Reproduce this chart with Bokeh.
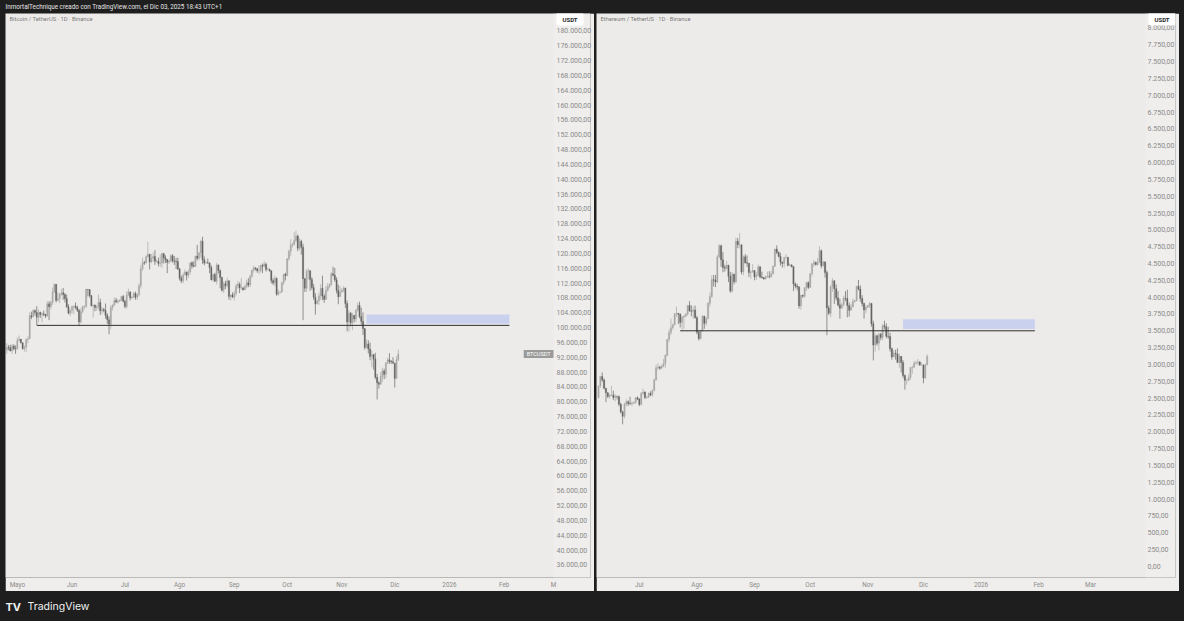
import numpy as np
from bokeh.plotting import figure
from bokeh.models import Range1d, FixedTicker, Label, Spacer, ColumnDataSource, BoxAnnotation
from bokeh.layouts import row, column
from bokeh.embed import file_html
from bokeh.resources import INLINE
from bokeh.core.properties import value

# ---------------------------------------------------------------- texts
HEADER_TEXT = "InmortalTechnique creado con TradingView.com, el Dic 03, 2025 18:43 UTC+1"
BTC_TITLE = "Bitcoin / TetherUS · 1D · Binance"
ETH_TITLE = "Ethereum / TetherUS · 1D · Binance"
BRAND = "TradingView"

# ---------------------------------------------------------------- BTC data (daily, thousands USDT), first day 2025-04-24
btc_start = "2025-04-24"
btc_first_open = 93.7
btc_close = [
    93.9, 94.7, 94.6, 93.7, 95.0, 94.3, 94.2,
    96.5, 96.9, 95.9, 94.3, 94.7, 96.8, 97.0, 103.2, 102.9, 104.6, 104.1, 102.8, 104.1, 103.5, 103.7, 103.5, 103.1, 106.4, 105.6, 106.8, 109.6, 111.7, 107.3, 107.8, 109.0, 109.4, 108.9, 107.8, 105.6, 103.9, 104.6,
    105.7, 105.8, 105.4, 104.7, 101.5, 104.3, 105.6, 105.7, 110.3, 110.2, 108.6, 105.9, 106.1, 105.4, 105.6, 106.8, 104.5, 104.9, 104.6, 103.3, 102.1, 100.9, 105.4, 106.0, 107.3, 106.9, 107.1, 107.3, 108.4, 107.1,
    105.7, 108.8, 109.6, 108.0, 108.2, 109.2, 108.2, 108.9, 111.3, 115.9, 117.5, 117.4, 119.1, 119.8, 117.7, 118.7, 119.2, 117.9, 117.9, 117.3, 117.4, 120.0, 118.8, 118.3, 117.6, 117.9, 119.4, 118.0, 117.9, 117.8, 115.8,
    113.3, 112.6, 114.2, 115.0, 114.1, 115.0, 117.5, 116.7, 116.5, 119.3, 118.7, 120.2, 123.3, 118.3, 117.4, 117.5, 117.4, 116.2, 112.9, 114.3, 112.5, 116.9, 115.4, 113.5, 110.1, 111.8, 111.3, 112.6, 108.4, 108.8, 108.2,
    109.2, 111.2, 111.7, 110.7, 110.7, 110.2, 111.1, 112.1, 111.5, 113.9, 115.5, 116.1, 115.9, 115.3, 115.4, 116.8, 116.5, 117.1, 115.7, 115.7, 115.3, 112.7, 112.0, 113.3, 109.0, 109.6, 109.6, 112.1, 114.4, 114.0,
    118.6, 120.6, 122.3, 122.4, 123.5, 124.7, 121.4, 123.3, 121.7, 113.2, 110.6, 115.2, 115.3, 113.0, 110.8, 108.2, 106.4, 107.2, 108.6, 110.6, 108.5, 107.6, 110.1, 111.0, 111.6, 114.5, 114.1, 112.9, 110.0, 108.3, 109.6,
    110.1, 110.6, 106.5, 101.5, 103.9, 101.3, 103.3, 102.3, 104.7, 106.0, 103.0, 101.7, 99.7, 94.6, 95.6, 94.2, 92.2, 92.7, 91.5, 86.6, 85.1, 84.7, 86.8, 88.3, 87.4, 90.5, 91.3, 90.9, 90.8, 90.4,
    86.3, 91.3, 92.9,
]
btc_high = [
    94.0, 95.8, 95.3, 95.4, 95.6, 95.5, 95.2,
    97.4, 97.9, 96.9, 96.0, 95.2, 97.0, 97.7, 104.1, 104.3, 104.9, 104.9, 105.8, 104.9, 104.3, 104.2, 104.6, 103.7, 107.1, 107.1, 107.3, 110.8, 111.9, 111.3, 109.5, 109.3, 110.4, 110.7, 109.3, 108.9, 106.3, 104.9,
    105.9, 105.9, 106.8, 105.9, 105.0, 105.3, 105.9, 106.0, 110.5, 110.4, 110.4, 108.8, 106.2, 106.2, 106.1, 108.9, 107.8, 105.6, 105.3, 106.5, 103.9, 103.0, 106.1, 106.3, 108.1, 108.0, 107.7, 107.6, 108.5, 108.8,
    107.5, 109.8, 110.5, 109.8, 108.4, 109.7, 109.7, 109.2, 111.9, 116.9, 118.9, 118.0, 119.5, 123.2, 119.9, 119.8, 120.2, 120.9, 118.4, 118.9, 119.7, 120.2, 120.0, 119.5, 118.5, 118.3, 119.8, 119.8, 119.3, 118.8, 118.9,
    116.1, 114.0, 114.8, 115.7, 115.1, 115.7, 117.6, 117.9, 117.9, 119.3, 122.3, 120.3, 123.7, 124.5, 119.2, 117.9, 118.6, 117.6, 116.8, 114.6, 114.8, 117.4, 117.0, 115.7, 113.7, 112.4, 112.6, 113.5, 112.7, 108.9, 109.5,
    109.9, 111.8, 112.6, 112.2, 113.4, 111.0, 111.6, 112.9, 113.3, 114.3, 115.6, 116.7, 116.3, 116.1, 116.8, 116.9, 117.3, 117.9, 117.5, 116.2, 115.9, 115.4, 113.3, 114.0, 113.5, 110.3, 109.8, 112.4, 114.5, 114.8,
    118.7, 121.0, 123.9, 122.9, 125.7, 126.2, 125.1, 124.2, 123.7, 122.6, 113.4, 115.8, 116.0, 115.5, 113.6, 111.8, 109.3, 107.5, 109.5, 111.7, 114.0, 109.0, 111.3, 112.0, 111.9, 115.0, 116.4, 116.1, 113.6, 111.6, 111.2,
    110.6, 111.2, 110.8, 107.3, 104.6, 104.2, 104.0, 103.4, 105.0, 106.7, 107.0, 105.4, 104.1, 99.9, 96.8, 96.6, 96.0, 93.8, 92.9, 93.2, 87.5, 85.5, 88.0, 89.2, 88.9, 90.6, 91.9, 93.1, 91.2, 92.0,
    90.4, 92.3, 94.1,
]
btc_low = [
    91.7, 92.9, 93.9, 93.6, 92.9, 93.9, 92.9,
    94.1, 96.3, 95.7, 94.1, 93.5, 93.4, 95.8, 97.0, 102.3, 102.8, 103.3, 100.7, 101.4, 102.6, 101.4, 103.1, 102.6, 103.0, 102.0, 104.9, 106.1, 109.3, 106.8, 107.3, 106.6, 108.6, 107.5, 106.8, 105.3, 103.6, 103.1,
    103.8, 103.7, 105.0, 104.2, 100.4, 101.1, 103.9, 104.9, 105.3, 108.4, 108.1, 105.7, 102.7, 104.4, 104.5, 104.9, 103.4, 103.6, 104.1, 102.4, 101.0, 98.2, 99.6, 104.6, 105.9, 106.6, 106.4, 106.9, 107.2, 106.8,
    105.2, 105.1, 108.5, 107.3, 107.8, 107.9, 107.5, 107.4, 108.4, 110.6, 115.3, 116.9, 117.3, 118.9, 115.7, 117.4, 117.8, 116.9, 117.5, 116.5, 116.4, 116.1, 117.3, 117.4, 114.7, 117.2, 117.8, 117.5, 116.9, 115.8, 115.5,
    112.7, 112.0, 112.0, 114.1, 112.7, 113.4, 114.3, 115.9, 116.3, 116.5, 118.1, 118.2, 118.9, 117.2, 116.8, 117.2, 117.2, 114.7, 112.7, 112.4, 112.3, 111.7, 114.6, 110.6, 109.7, 109.3, 110.4, 110.9, 107.5, 107.3, 108.1,
    107.3, 108.6, 110.5, 109.3, 110.2, 110.0, 110.1, 110.6, 110.9, 110.9, 113.4, 114.8, 115.4, 114.8, 114.4, 114.8, 114.7, 116.4, 115.1, 115.5, 115.1, 111.9, 111.5, 111.1, 108.6, 108.6, 109.1, 109.4, 111.5, 112.7,
    113.9, 118.0, 119.3, 121.6, 122.1, 123.1, 120.6, 121.0, 119.7, 102.0, 109.6, 109.6, 113.0, 109.9, 110.2, 107.5, 103.5, 106.3, 106.1, 107.5, 107.4, 106.7, 107.5, 109.7, 110.6, 111.3, 113.8, 112.3, 109.2, 106.3, 108.6,
    109.4, 109.6, 105.3, 99.0, 98.9, 100.3, 99.3, 101.4, 101.5, 104.3, 102.5, 100.8, 98.0, 94.0, 94.6, 93.0, 91.2, 89.3, 88.6, 86.1, 80.6, 83.5, 84.6, 85.3, 86.1, 86.3, 90.1, 90.2, 90.2, 90.3,
    83.8, 86.2, 91.0,
]
btc_level = 100600
btc_zone_bottom, btc_zone_top = 101050, 103500
btc_level_start = "2025-05-12"
btc_zone_start = "2025-11-15"
btc_drawing_end = "2026-02-04"
btc_months = ["2025-05-01", "2025-06-01", "2025-07-01", "2025-08-01", "2025-09-01",
              "2025-10-01", "2025-11-01", "2025-12-01", "2026-01-01", "2026-02-01", "2026-03-01"]
btc_month_labels = ["Mayo", "Jun", "Jul", "Ago", "Sep", "Oct", "Nov", "Dic", "2026", "Feb", "M"]
btc_price_ticks = list(range(36000, 180001, 4000))

# ---------------------------------------------------------------- ETH data (daily, USDT), first day 2025-06-09
eth_start = "2025-06-09"
eth_first_open = 2510
eth_close = [
    2680, 2820, 2770, 2645, 2580, 2525, 2545, 2545, 2510, 2525, 2520, 2410, 2295, 2230, 2410, 2445, 2420, 2415, 2425, 2435, 2505, 2485,
    2405, 2570, 2590, 2510, 2515, 2570, 2545, 2615, 2770, 2950, 2960, 2945, 2970, 3010, 3135, 3370, 3475, 3545, 3590, 3755, 3760, 3745, 3625, 3705, 3720, 3745, 3875, 3795, 3790, 3810, 3695,
    3480, 3385, 3500, 3715, 3610, 3685, 3910, 4010, 4260, 4250, 4225, 4600, 4765, 4555, 4440, 4430, 4475, 4310, 4090, 4340, 4230, 4830, 4780, 4780, 4375, 4600, 4510, 4505, 4365, 4370, 4395,
    4300, 4325, 4450, 4300, 4290, 4270, 4305, 4310, 4305, 4345, 4460, 4715, 4665, 4605, 4520, 4500, 4590, 4590, 4470, 4480, 4455, 4195, 4165, 4150, 3870, 4030, 4015, 4140, 4215, 4145,
    4350, 4490, 4515, 4485, 4515, 4690, 4465, 4525, 4365, 3840, 3760, 4155, 4245, 4125, 3990, 3885, 3835, 3890, 3985, 3980, 3875, 3805, 3855, 3935, 3950, 4160, 4120, 3980, 3905, 3810, 3850,
    3875, 3905, 3605, 3290, 3425, 3315, 3450, 3400, 3575, 3560, 3420, 3415, 3235, 3110, 3165, 3155, 3030, 3120, 3030, 2835, 2765, 2765, 2805, 2955, 2960, 3020, 3025, 3035, 2990, 2990,
    2800, 2995, 3120,
]
eth_high = [
    2690, 2830, 2880, 2790, 2645, 2585, 2560, 2680, 2610, 2560, 2535, 2540, 2430, 2310, 2430, 2480, 2465, 2520, 2450, 2450, 2510, 2525,
    2500, 2590, 2640, 2600, 2530, 2585, 2600, 2625, 2795, 2995, 3020, 2980, 3000, 3080, 3150, 3380, 3520, 3680, 3610, 3760, 3860, 3760, 3760, 3720, 3730, 3765, 3880, 3940, 3880, 3860, 3875,
    3720, 3500, 3510, 3735, 3725, 3700, 3925, 4070, 4320, 4330, 4330, 4630, 4790, 4780, 4670, 4480, 4540, 4480, 4375, 4375, 4350, 4885, 4880, 4955, 4780, 4620, 4640, 4620, 4510, 4400, 4490,
    4400, 4370, 4485, 4460, 4380, 4300, 4320, 4380, 4385, 4390, 4470, 4720, 4770, 4680, 4660, 4530, 4600, 4640, 4600, 4500, 4485, 4460, 4220, 4200, 4165, 4035, 4035, 4150, 4230, 4235,
    4355, 4510, 4555, 4530, 4580, 4755, 4710, 4535, 4525, 4395, 3875, 4180, 4285, 4240, 4190, 4090, 3975, 3915, 4020, 4090, 4110, 3920, 3900, 3980, 3960, 4170, 4255, 4175, 4030, 3920, 3880,
    3880, 3930, 3915, 3650, 3470, 3440, 3470, 3470, 3600, 3650, 3610, 3560, 3470, 3250, 3210, 3220, 3240, 3160, 3125, 3065, 2850, 2785, 2850, 2960, 2980, 3050, 3055, 3080, 3050, 3030,
    3000, 3010, 3150,
]
eth_low = [
    2490, 2650, 2740, 2630, 2440, 2500, 2490, 2530, 2470, 2450, 2480, 2380, 2270, 2110, 2200, 2380, 2380, 2400, 2380, 2410, 2420, 2470,
    2380, 2390, 2550, 2485, 2490, 2500, 2530, 2520, 2600, 2760, 2920, 2920, 2935, 2960, 2950, 3120, 3330, 3440, 3520, 3580, 3705, 3600, 3550, 3500, 3530, 3700, 3730, 3785, 3715, 3680, 3680,
    3450, 3355, 3370, 3490, 3530, 3575, 3670, 3860, 3990, 4160, 4150, 4210, 4580, 4450, 4370, 4380, 4410, 4225, 4065, 4070, 4190, 4210, 4730, 4720, 4340, 4325, 4500, 4450, 4300, 4270, 4370,
    4250, 4255, 4310, 4280, 4280, 4260, 4265, 4290, 4280, 4290, 4340, 4450, 4640, 4590, 4470, 4440, 4440, 4570, 4460, 4460, 4440, 4090, 4130, 4100, 3830, 3815, 3990, 3990, 4090, 4120,
    4140, 4310, 4450, 4470, 4470, 4510, 4430, 4455, 4290, 3435, 3735, 3700, 4080, 3900, 3950, 3860, 3680, 3830, 3860, 3940, 3700, 3710, 3800, 3850, 3920, 3935, 4100, 3930, 3860, 3680, 3760,
    3840, 3840, 3560, 3060, 3190, 3280, 3210, 3360, 3360, 3520, 3390, 3380, 3190, 3070, 3130, 3070, 3020, 2950, 2880, 2800, 2625, 2700, 2750, 2770, 2860, 2950, 2995, 2990, 2980, 2980,
    2720, 2785, 2985,
]
eth_level = 3500
eth_zone_bottom, eth_zone_top = 3525, 3670
eth_level_start = "2025-07-23"
eth_zone_start = "2025-11-20"
eth_drawing_end = "2026-01-30"
eth_months = ["2025-07-01", "2025-08-01", "2025-09-01", "2025-10-01", "2025-11-01",
              "2025-12-01", "2026-01-01", "2026-02-01", "2026-03-01"]
eth_month_labels = ["Jul", "Ago", "Sep", "Oct", "Nov", "Dic", "2026", "Feb", "Mar"]
eth_price_ticks = list(range(0, 8001, 250))

# ---------------------------------------------------------------- style
DARK = "#1e1e1e"
PLOT_BG = "#ecebe9"
AXIS_BG = "#efeeec"
UP = "#a8a8a8"
DOWN = "#656565"
ZONE = "#c9d1ef"
LEVEL = "#2e2e2e"
LABEL_GRAY = "#8a8a8a"
FONT = "Roboto"

TOTAL_W = 1184
HEADER_H, PANEL_H, FOOTER_H = 13, 578, 30
FRAME_H = 566
EDGE = 4  # thin right border of each panel
# panel width, chart-area width, left edge of the price labels (px inside panel)
BTC_W, BTC_CHART_W, BTC_LABEL_X = 589, 548, 551
ETH_W, ETH_CHART_W, ETH_LABEL_X = 583, 549, 551
DAY_MS = 86400000.0


def to_ms(d):
    return float(np.datetime64(d, "ms").astype(np.int64))


def es_fmt(v):
    s = f"{v:,.2f}"
    return s.replace(",", " ").replace(".", ",").replace(" ", ".")


def candle_source(start, first_open, close, high, low, scale):
    c = np.array(close, dtype=float) * scale
    o = np.concatenate([[first_open * scale], c[:-1]])
    h = np.maximum(np.array(high, dtype=float) * scale, np.maximum(o, c))
    l = np.minimum(np.array(low, dtype=float) * scale, np.minimum(o, c))
    days = np.datetime64(start, "D") + np.arange(len(c))
    x = days.astype("datetime64[ms]").astype(np.int64).astype(float)
    color = np.where(c >= o, UP, DOWN)
    return ColumnDataSource(dict(x=x, o=o, h=h, l=l, c=c,
                                 top=np.maximum(o, c), bottom=np.minimum(o, c), color=color))


def make_panel(width, chart_w, label_x, chart_x_range, y_range, src, months, month_labels,
               price_ticks, title, level, level_start, zone, zone_start, drawing_end):
    frame_w = width - EDGE
    x0, x1 = chart_x_range
    x_end = x0 + (x1 - x0) * frame_w / chart_w   # frame also spans the price-scale strip
    p = figure(width=width, height=PANEL_H, x_range=Range1d(x0, x_end), y_range=Range1d(*y_range),
               output_backend="svg", toolbar_location=None, tools="", y_axis_location="right",
               min_border_left=0, min_border_top=0, min_border_right=EDGE,
               min_border_bottom=PANEL_H - FRAME_H)
    p.background_fill_color = PLOT_BG
    p.border_fill_color = AXIS_BG
    p.outline_line_color = None
    p.grid.grid_line_color = None
    p.add_layout(BoxAnnotation(left=x1, fill_color=AXIS_BG, fill_alpha=1.0, line_color=None,
                               level="underlay"))

    month_ms = [to_ms(m) for m in months]
    p.xaxis.ticker = FixedTicker(ticks=month_ms)
    p.xaxis.major_label_overrides = {m: lab for m, lab in zip(month_ms, month_labels)}
    ticks = [float(t) for t in price_ticks]
    p.yaxis.ticker = FixedTicker(ticks=ticks)
    p.yaxis.major_label_overrides = {t: es_fmt(t) for t in ticks}
    for ax in (p.xaxis[0], p.yaxis[0]):
        ax.axis_line_color = None
        ax.major_tick_line_color = None
        ax.minor_tick_line_color = None
        ax.major_tick_out = 0
        ax.major_tick_in = 0
        ax.major_label_text_font = FONT
        ax.major_label_text_color = LABEL_GRAY
    p.xaxis.major_label_standoff = 3
    p.yaxis.major_label_standoff = label_x - frame_w
    p.yaxis.major_label_text_font_size = "7px"
    p.xaxis.major_label_text_font_size = "6.3px"

    p.segment(x0="x", y0="h", x1="x", y1="l", source=src, line_color="color", line_width=0.7)
    p.vbar(x="x", width=0.72 * DAY_MS, top="top", bottom="bottom", source=src,
           fill_color="color", line_color="color", line_width=0.3)

    p.quad(left=[to_ms(zone_start)], right=[to_ms(drawing_end)], bottom=[zone[0]], top=[zone[1]],
           fill_color=ZONE, line_color=None)
    p.segment(x0=[to_ms(level_start)], y0=[level], x1=[to_ms(drawing_end)], y1=[level],
              line_color=LEVEL, line_width=1)

    p.add_layout(Label(x=4, y=FRAME_H - 7, x_units="screen", y_units="screen", text=title,
                       text_font=FONT, text_font_size="5.8px", text_color="#7b7b7b",
                       text_baseline="middle"))
    p.add_layout(Label(x=chart_w + 3, y=FRAME_H - 1, x_units="screen", y_units="screen",
                       text="USDT", text_font=FONT, text_font_size="6px", text_font_style="bold",
                       text_color="#1f1f1f", text_baseline="top", text_align="left",
                       background_fill_color="#ffffff", padding=(6, 3), border_radius=2))
    return p


btc_src = candle_source(btc_start, btc_first_open, btc_close, btc_high, btc_low, 1000.0)
eth_src = candle_source(eth_start, eth_first_open, eth_close, eth_high, eth_low, 1.0)

btc_x = (to_ms("2025-04-24T07:00"), to_ms("2026-03-01T00:00"))
btc_y = (32590, 184720)
eth_x = (to_ms("2025-06-07T22:00"), to_ms("2026-03-30T14:00"))
eth_y = (-166, 8215)

p_btc = make_panel(BTC_W, BTC_CHART_W, BTC_LABEL_X, btc_x, btc_y, btc_src, btc_months,
                   btc_month_labels, btc_price_ticks, BTC_TITLE, btc_level, btc_level_start,
                   (btc_zone_bottom, btc_zone_top), btc_zone_start, btc_drawing_end)
p_btc.add_layout(Label(x=btc_x[1], y=btc_close[-1] * 1000.0, text="BTCUSDT", text_font=FONT,
                       text_font_size="5.5px", text_color="#ffffff", text_align="right",
                       text_baseline="middle", background_fill_color="#9a9a9a", padding=(3, 1)))

p_eth = make_panel(ETH_W, ETH_CHART_W, ETH_LABEL_X, eth_x, eth_y, eth_src, eth_months,
                   eth_month_labels, eth_price_ticks, ETH_TITLE, eth_level, eth_level_start,
                   (eth_zone_bottom, eth_zone_top), eth_zone_start, eth_drawing_end)


def band(height):
    f = figure(width=TOTAL_W, height=height, x_range=Range1d(0, TOTAL_W), y_range=Range1d(0, height),
               output_backend="svg", toolbar_location=None, tools="", x_axis_location=None,
               y_axis_location=None, min_border=0)
    f.background_fill_color = DARK
    f.border_fill_color = DARK
    f.outline_line_color = None
    f.grid.grid_line_color = None
    return f


header = band(HEADER_H)
header.text(x=[5], y=[6.5], text=[HEADER_TEXT], text_font=value(FONT), text_font_size=value("6.3px"),
            text_color="#e6e6e6", text_baseline="middle")

footer = band(FOOTER_H)
footer.text(x=[5], y=[15], text=["TV"], text_font=value("Inter"), text_font_size=value("11px"),
            text_font_style="bold", text_color="#f0f0f0", text_baseline="middle")
footer.text(x=[27], y=[15], text=[BRAND], text_font=value("Inter"), text_font_size=value("10.5px"),
            text_color="#f0f0f0", text_baseline="middle")

dark = {"background-color": DARK}
middle = row(Spacer(width=5, height=PANEL_H, styles=dark), p_btc,
             Spacer(width=2, height=PANEL_H, styles=dark), p_eth,
             Spacer(width=5, height=PANEL_H, styles=dark), styles=dark)
page = column(header, middle, footer, styles=dark)

open("out.html", "w").write(file_html(page, INLINE))
